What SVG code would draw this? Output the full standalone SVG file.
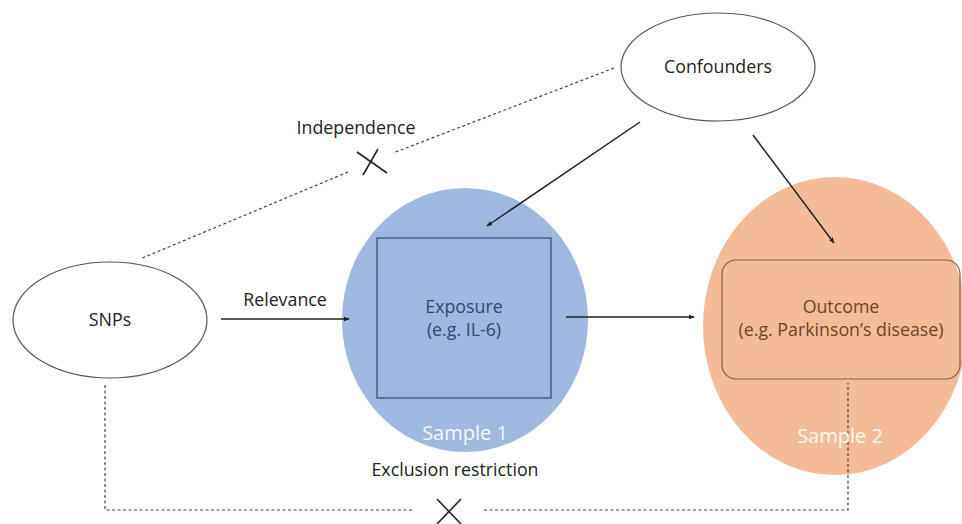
<svg xmlns="http://www.w3.org/2000/svg" width="962" height="524" viewBox="0 0 962 524">
  <style>
    .lbl { font-family: "Open Sans", "Noto Sans", "Liberation Sans", sans-serif; font-size: 17.8px; fill: #222; text-anchor: middle; }
    .oval { fill: #fff; stroke: #555; stroke-width: 1.2; }
    .arrow { stroke: #222; stroke-width: 1.5; fill: none; marker-end: url(#head); }
    .dash { stroke: #444; stroke-width: 1.2; fill: none; stroke-dasharray: 3 2.5; }
    .cross { stroke: #222; stroke-width: 1.6; }
    .sample { font-family: "Open Sans", "Noto Sans", "Liberation Sans", sans-serif; font-size: 20px; fill: #fff; text-anchor: middle; opacity: 0.9; }
  </style>
  <defs>
    <marker id="head" viewBox="0 0 10 10" refX="9" refY="5" markerWidth="6" markerHeight="6" orient="auto" markerUnits="userSpaceOnUse">
      <path d="M0,1 L10,5 L0,9 z" fill="#222"/>
    </marker>
  </defs>
  <rect width="962" height="524" fill="#fff"/>

  <!-- sample backgrounds -->
  <g id="sample1">
    <ellipse cx="465" cy="320" rx="123" ry="132" fill="#a0b8e0"/>
    <text class="sample" x="465" y="440">Sample 1</text>
  </g>
  <g id="sample2">
    <ellipse cx="835" cy="326" rx="132" ry="149" fill="#f4bc96"/>
  </g>

  <g id="confounders">
    <ellipse class="oval" cx="718" cy="67" rx="97" ry="54"/>
    <text class="lbl" x="718" y="73">Confounders</text>
  </g>
  <g id="snps">
    <ellipse class="oval" cx="110" cy="320" rx="97" ry="58"/>
    <text class="lbl" x="110" y="326">SNPs</text>
  </g>
  <g id="exposure">
    <rect x="377" y="238" width="174" height="160" fill="none" stroke="#2e4670" stroke-width="1.2"/>
    <text class="lbl" x="464" y="313" style="fill:#34496b">Exposure</text>
    <text class="lbl" x="464" y="336" style="fill:#34496b">(e.g. IL-6)</text>
  </g>
  <g id="outcome">
    <rect x="722" y="260" width="238" height="119" rx="14" fill="none" stroke="#8a5a3a" stroke-width="1.2"/>
    <text class="lbl" x="841" y="313" style="fill:#6e4428">Outcome</text>
    <text class="lbl" x="841" y="336" style="fill:#6e4428">(e.g. Parkinson’s disease)</text>
  </g>

  <g id="connectors">
    <line class="arrow" x1="221" y1="319" x2="349" y2="319"/>
    <line class="arrow" x1="566" y1="317" x2="694" y2="317"/>
    <line class="arrow" x1="640" y1="122" x2="487" y2="226"/>
    <line class="arrow" x1="753" y1="135" x2="834" y2="243"/>

    <!-- independence path -->
    <line class="dash" x1="614" y1="68" x2="393" y2="153"/>
    <line class="dash" x1="348" y1="172" x2="140" y2="259"/>
    <line class="cross" x1="357" y1="152" x2="387" y2="173"/>
    <line class="cross" x1="378" y1="149" x2="363" y2="175"/>

    <!-- exclusion restriction path -->
    <polyline class="dash" points="105,385 105,510 413,510"/>
    <polyline class="dash" points="484,510 848,510 848,383"/>
    <line class="cross" x1="437" y1="499" x2="461" y2="524"/>
    <line class="cross" x1="461" y1="499" x2="437" y2="524"/>
  </g>

  <g id="sample2-label">
    <text class="sample" x="840" y="443">Sample 2</text>
  </g>

  <g id="labels">
    <text class="lbl" x="285" y="306">Relevance</text>
    <text class="lbl" x="356" y="134">Independence</text>
    <text class="lbl" x="455" y="476">Exclusion restriction</text>
  </g>
</svg>
